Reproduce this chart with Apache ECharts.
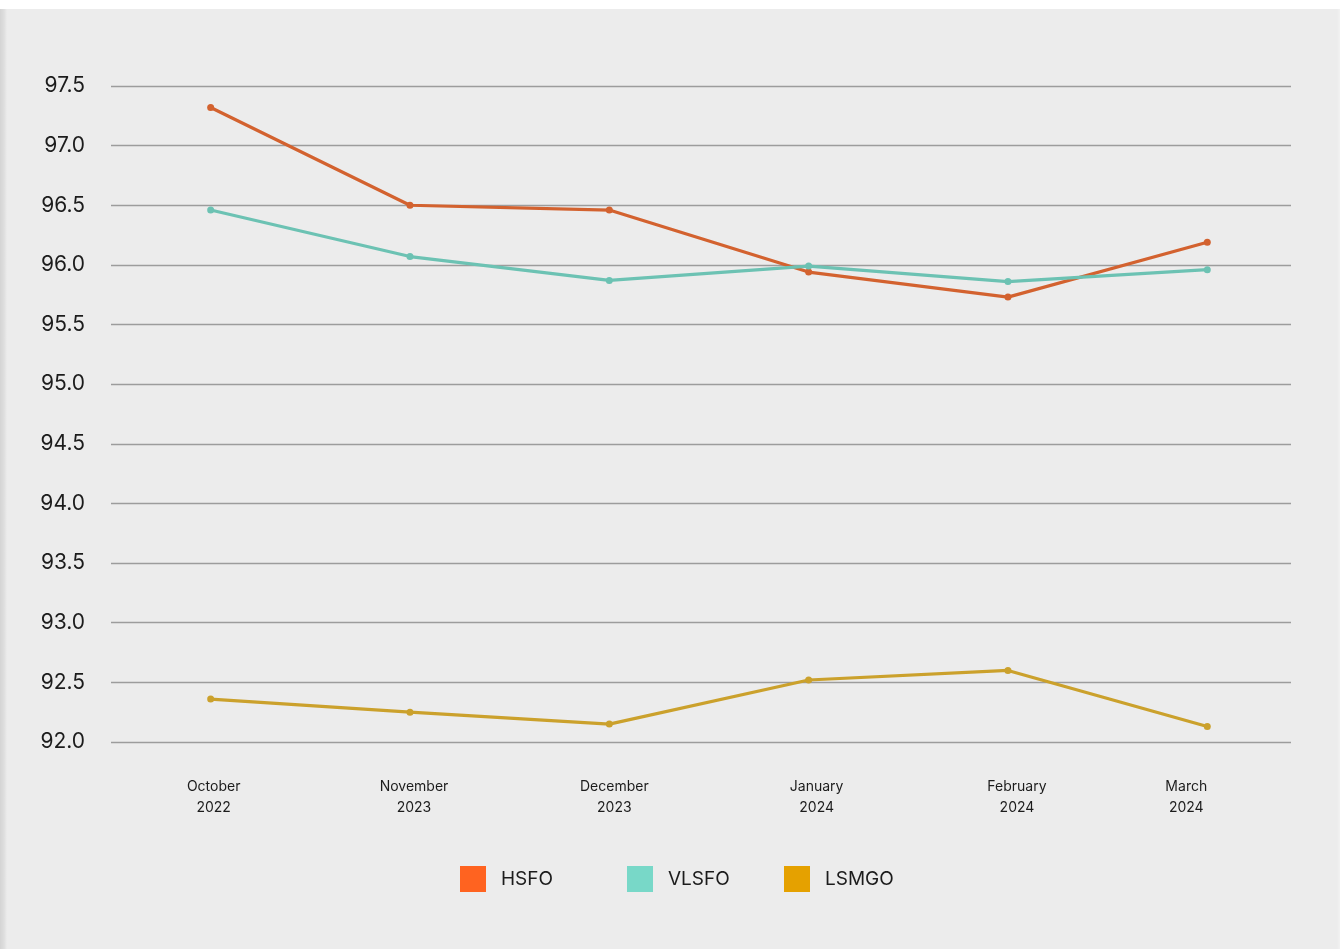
<!DOCTYPE html>
<html>
<head>
<meta charset="utf-8">
<script src="https://cdn.jsdelivr.net/npm/echarts@6/dist/echarts.min.js"></script>
<style>
  html, body { margin: 0; padding: 0; background: #ffffff; }
  #bg {
    position: absolute; left: 0; top: 9px; width: 1340px; height: 940px;
    background: linear-gradient(to right, #d4d4d4 0px, #dedede 4px, #ececec 7px, #ececec 1337px, #f2f2f2 1340px);
  }
  #chart { position: absolute; left: 0; top: 0; width: 1340px; height: 949px; }
</style>
</head>
<body>
<div id="bg"></div>
<div id="chart"></div>
<script>
// Monthly fuel quality figures
const months = ['October', 'November', 'December', 'January', 'February', 'March'];
const years = ['2022', '2023', '2023', '2024', '2024', '2024'];
const hsfo = [97.32, 96.50, 96.46, 95.94, 95.73, 96.19];
const vlsfo = [96.46, 96.07, 95.87, 95.99, 95.86, 95.96];
const lsmgo = [92.36, 92.25, 92.15, 92.52, 92.60, 92.13];

// Horizontal nudge (px) of each month label relative to its point
const labelNudge = [3, 4, 5, 8, 9, -21];

const textColor = '#1c1c1c';
const fontFamily = 'Inter, "Noto Sans", sans-serif';

const rich = {};
labelNudge.forEach((d, i) => {
  rich['m' + i] = {
    fontSize: 14, lineHeight: 21, color: textColor, fontFamily: fontFamily,
    padding: d >= 0 ? [0, 0, 0, 2 * d] : [0, -2 * d, 0, 0]
  };
});

function seriesOf(name, values, lineColor) {
  return {
    name: name,
    type: 'line',
    data: values.map((v, i) => [i, v]),
    symbol: 'circle',
    symbolSize: 7,
    itemStyle: { color: lineColor },
    lineStyle: { color: lineColor, width: 3.2 },
    emphasis: { disabled: true },
    z: 3
  };
}

function legendOf(name, color, left) {
  return {
    left: left, top: 866, padding: 0,
    icon: 'rect', itemWidth: 26, itemHeight: 26, itemGap: 0,
    textStyle: { fontSize: 19, color: textColor, fontFamily: fontFamily, padding: [0, 0, 0, 10] },
    data: [{ name: name, itemStyle: { color: color } }],
    selectedMode: false
  };
}

const chart = echarts.init(document.getElementById('chart'));
chart.setOption({
  animation: false,
  grid: { left: 111, right: 49, top: 86, bottom: 207 },
  legend: [
    legendOf('HSFO', '#ff6320', 460),
    legendOf('VLSFO', '#78d8c8', 627),
    legendOf('LSMGO', '#e5a100', 784)
  ],
  xAxis: {
    type: 'value',
    min: -0.5,
    max: 5.42,
    interval: 0.5,
    axisLine: { show: false },
    axisTick: { show: false },
    splitLine: { show: false },
    axisLabel: {
      margin: 34,
      showMinLabel: true,
      showMaxLabel: true,
      rich: rich,
      formatter: function (v) {
        const i = Math.round(v);
        if (Math.abs(v - i) > 1e-6 || i < 0 || i >= months.length) return '';
        return '{m' + i + '|' + months[i] + '}\n{m' + i + '|' + years[i] + '}';
      }
    }
  },
  yAxis: {
    type: 'value',
    min: 92,
    max: 97.5,
    interval: 0.5,
    axisLine: { show: false },
    axisTick: { show: false },
    splitLine: { lineStyle: { color: '#9c9c9c', width: 1.3 } },
    axisLabel: {
      margin: 26,
      fontSize: 21,
      color: textColor,
      fontFamily: fontFamily,
      padding: [3, 0, 0, 0],
      formatter: v => v.toFixed(1)
    }
  },
  series: [
    seriesOf('HSFO', hsfo, '#d3622f'),
    seriesOf('VLSFO', vlsfo, '#6cc2b3'),
    seriesOf('LSMGO', lsmgo, '#cba12c')
  ]
});
</script>
</body>
</html>
